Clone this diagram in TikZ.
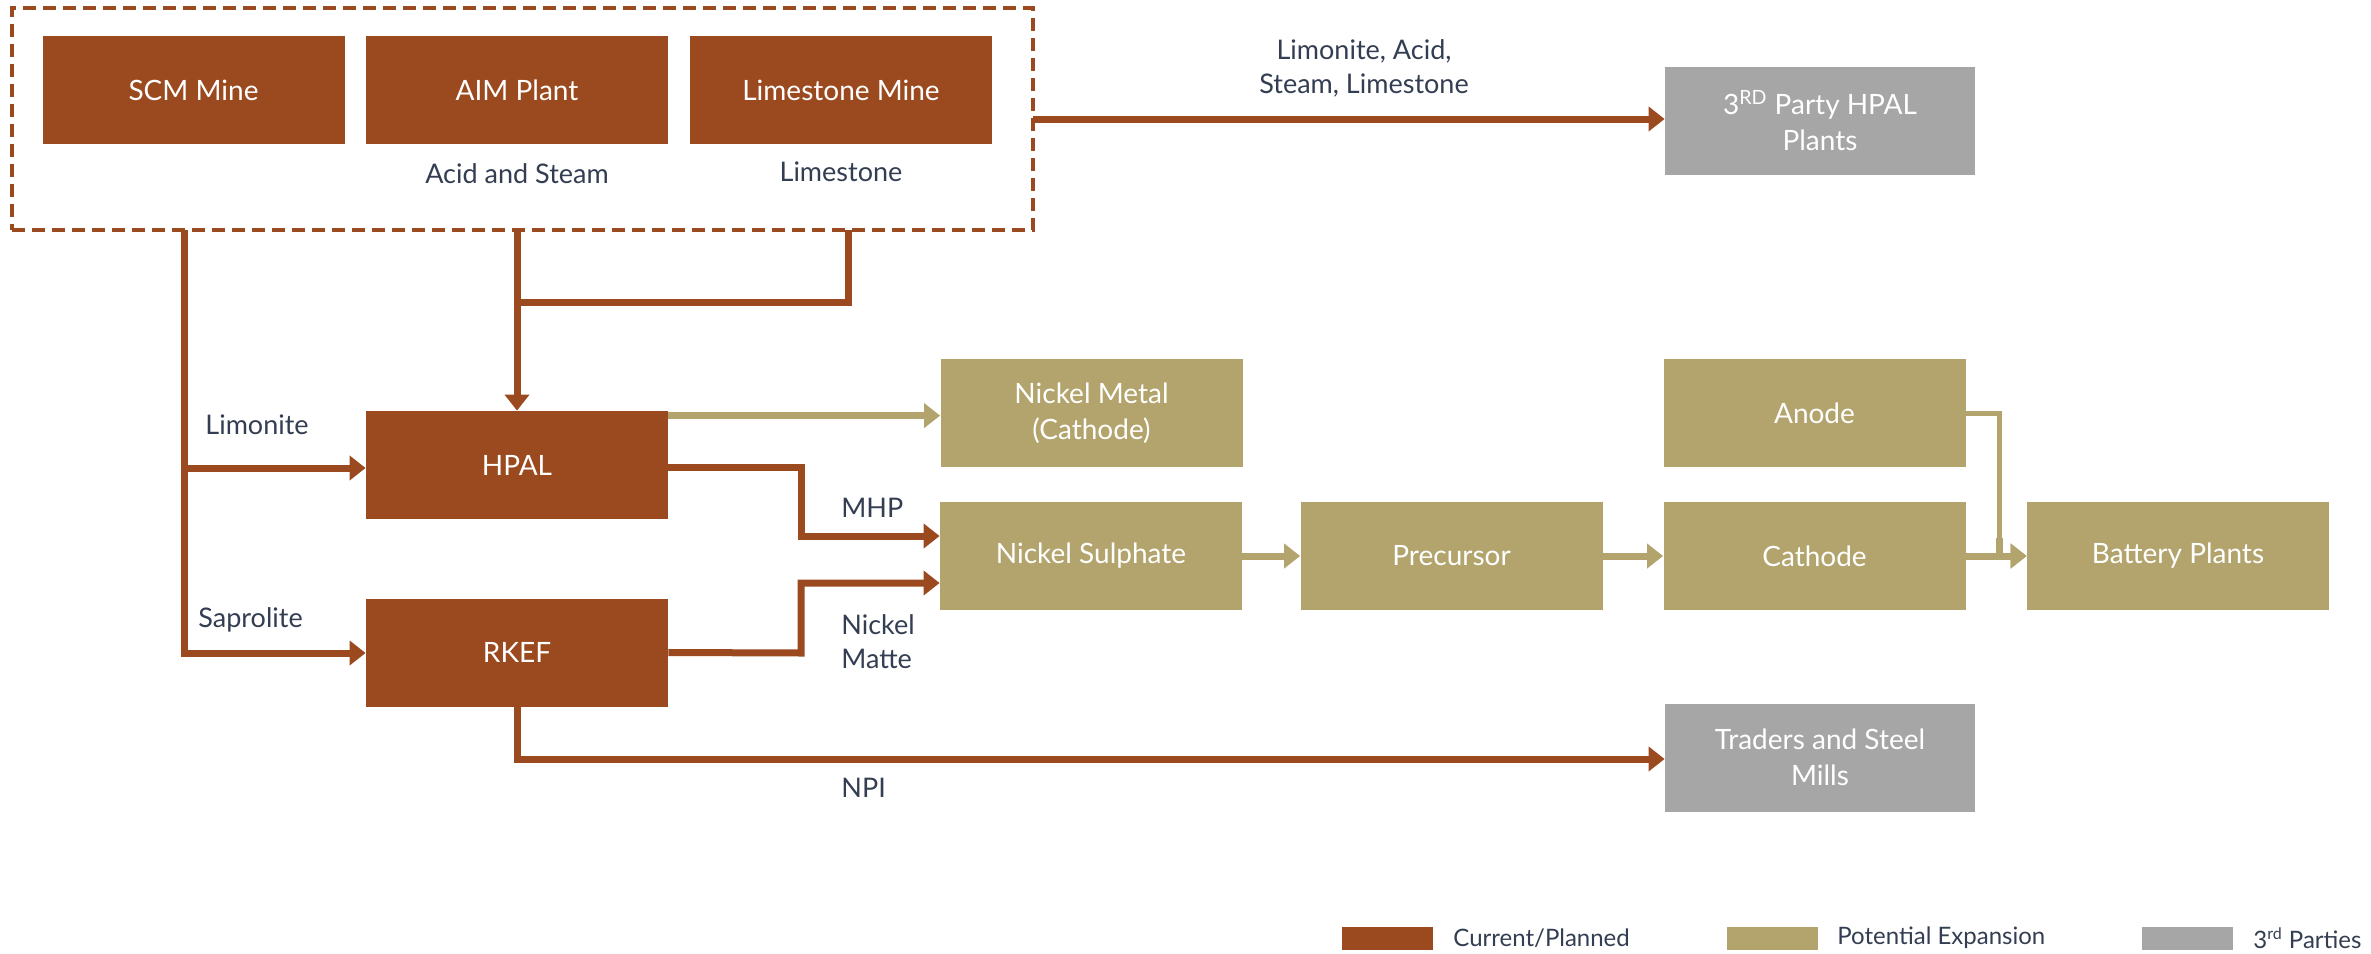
\documentclass[tikz,border=0pt]{standalone}
\usepackage{fontspec}
\setmainfont{Lato}
\usetikzlibrary{arrows.meta,calc}
\definecolor{brn}{RGB}{155,74,31}
\definecolor{kha}{RGB}{178,164,108}
\definecolor{gry}{RGB}{166,166,166}
\definecolor{txt}{RGB}{52,62,82}
\tikzset{
  box/.style={rectangle, inner sep=0pt, minimum width=151pt, minimum height=54pt, text=white, font=\fontsize{14}{18}\selectfont, align=center},
  cur/.style={box, fill=brn},
  pot/.style={box, fill=kha},
  thr/.style={box, fill=gry, minimum width=155pt},
  lbl/.style={text=txt, font=\fontsize{13.5}{17}\selectfont, align=center, inner sep=0pt},
  lgt/.style={text=txt, font=\fontsize{12}{14}\selectfont, inner sep=0pt, anchor=west},
  flow/.style={line width=3.5pt, draw=brn, -{Triangle[length=8pt,width=12pt]}},
  pflow/.style={line width=3.5pt, draw=kha, -{Triangle[length=8pt,width=12pt]}},
  plain/.style={line width=3.5pt, draw=brn},
  grpbox/.style={draw=brn, line width=1.6pt, dash pattern=on 6.5pt off 3.5pt, minimum width=510.5pt, minimum height=111pt, inner sep=0pt},
  swatch/.style={rectangle, inner sep=0pt, minimum width=45.5pt, minimum height=11.5pt}
}
\begin{document}
\begin{tikzpicture}[x=0.5pt,y=-0.5pt]
\fill[white] (0,0) rectangle (2371,953);
\useasboundingbox (0,0) rectangle (2371,953);

% group
\node[grpbox] (grp) at (522.5,119) {};
\node[cur] (scm) at (193.5,90) {SCM Mine};
\node[cur] (aim) at (517,90) {AIM Plant};
\node[cur] (lsm) at (841,90) {Limestone Mine};
\node[lbl] (lacid) at (517,174) {Acid and Steam};
\node[lbl] (llime) at (841,172) {Limestone};

% third party HPAL
\node[thr] (thp) at (1820,120.5) {3\textsuperscript{RD} Party HPAL\\Plants};
\node[lbl] (lmix) at (1364,68) {Limonite, Acid,\\Steam, Limestone};

% processing
\node[cur] (hpal) at (517,465) {HPAL};
\node[cur] (rkef) at (517,652.5) {RKEF};
\node[pot] (nim) at (1091.5,413) {Nickel Metal\\(Cathode)};
\node[pot] (nis) at (1091,556) {Nickel Sulphate};
\node[pot] (pre) at (1451.5,556) {Precursor};
\node[pot] (cat) at (1814.5,556) {Cathode};
\node[pot] (ano) at (1814.5,413) {Anode};
\node[pot] (bat) at (2178,556) {Battery Plants};
\node[thr] (trd) at (1820,757.5) {Traders and Steel\\Mills};

% labels
\node[lbl, anchor=west] (llimo) at (205,425) {Limonite};
\node[lbl, anchor=west] (lsap) at (198,620) {Saprolite};
\node[lbl, anchor=west] (lmhp) at (841,508) {MHP};
\node[lbl, anchor=west, align=left] (lmat) at (841,642) {Nickel\\Matte};
\node[lbl, anchor=west] (lnpi) at (841,788) {NPI};

% coordinates on group border
\coordinate (g1) at (184.5,230);
\coordinate (g2) at (517,230);
\coordinate (g3) at (848,230);
\coordinate (g4) at (1033,119);
\coordinate (j1) at (184.5,653);
\coordinate (j2) at (184.5,468);
\coordinate (j3) at (848,302);
\coordinate (j4) at (517,302);

% connectors
\draw[flow] (g4) -- (thp.west |- g4);
\draw[flow] (g2) -- (hpal.north);
\draw[plain] (g3) -- (j3) -- (j4);
\draw[flow] (g1) -- (j1) -- (rkef.west |- j1);
\draw[flow] (j2) -- (hpal.west |- j2);

\coordinate (h1) at ($(hpal.north east)+(0,5)$);
\draw[pflow] (h1) -- (nim.west |- h1);
\draw[flow] ($(hpal.east)+(0,2)$) -- (801,467) -- (801,536) -- (nis.west |- 0,536);
\draw[flow] (rkef.east) -- (801,653) -- (801,583) -- (nis.west |- 0,583);
\draw[flow] (rkef.south) -- (517,759) -- (trd.west |- 0,759);

\draw[pflow] (nis.east) -- (pre.west);
\draw[pflow] (pre.east) -- (cat.west);
\draw[pflow] (cat.east) -- (bat.west);
\draw[line width=2.5pt, draw=kha] (ano.east) -- (1999,413) -- (1999,540);
\draw[pflow] (1999,538) -- (1999,556) -- (bat.west);

% legend
\node[swatch, fill=brn] (sw1) at (1387.5,938) {};
\node[lgt] (lg1) at (1453,938) {Current/Planned};
\node[swatch, fill=kha] (sw2) at (1772.5,938) {};
\node[lgt] (lg2) at (1837,938) {Potential Expansion};
\node[swatch, fill=gry] (sw3) at (2187.5,938) {};
\node[lgt] (lg3) at (2253,938) {3\textsuperscript{rd} Parties};
\end{tikzpicture}
\end{document}
